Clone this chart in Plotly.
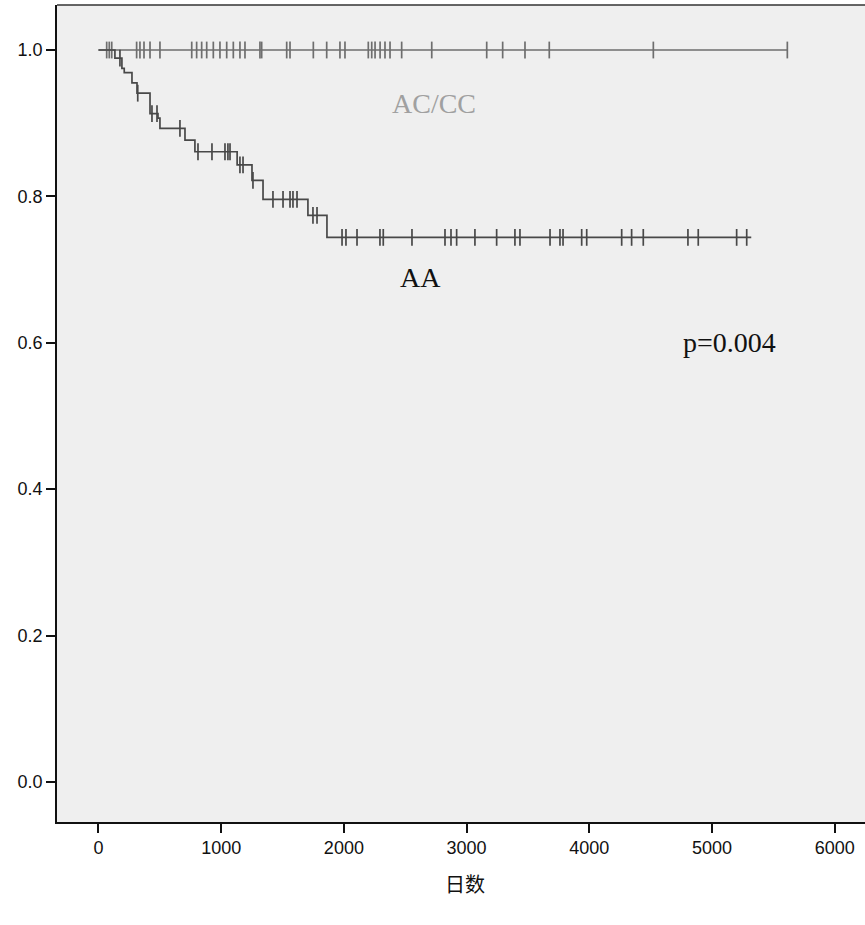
import numpy as np
import plotly.graph_objects as go

# ---- data ----
acc_censor_days = [67, 88, 108, 311, 338, 371, 420, 501, 760, 800, 841, 882, 936, 990,
                   1045, 1099, 1153, 1194, 1316, 1330, 1534, 1561, 1751, 1860, 1968, 2009,
                   2199, 2227, 2254, 2295, 2335, 2376, 2471, 2716, 3164, 3294, 3476, 3674,
                   4522, 5614]
acc_event_days = [0]
acc_survival = [1.0]
acc_last_day = 5614

aa_event_days = [0, 134, 191, 210, 273, 314, 420, 485, 501, 705, 786, 1130, 1251, 1341, 1707, 1862]
aa_survival = [1.0, 0.989, 0.975, 0.969, 0.955, 0.941, 0.913, 0.907, 0.893, 0.877, 0.861,
               0.843, 0.822, 0.796, 0.774, 0.744]
aa_censor_days = [175, 320, 436, 477, 664, 811, 925, 1031, 1055, 1072, 1153, 1178, 1259,
                  1422, 1504, 1561, 1585, 1618, 1748, 1781, 1985, 2017, 2107, 2294, 2321,
                  2555, 2824, 2873, 2919, 3068, 3245, 3394, 3435, 3680, 3761, 3786, 3938,
                  3979, 4264, 4345, 4440, 4804, 4888, 5201, 5283]
aa_last_day = 5320

x_ticks = [0, 1000, 2000, 3000, 4000, 5000, 6000]
y_ticks = [0.0, 0.2, 0.4, 0.6, 0.8, 1.0]
y_tick_labels = ["0.0", "0.2", "0.4", "0.6", "0.8", "1.0"]


def surv_at(days, ev, sv):
    idx = np.searchsorted(np.array(ev), np.array(days), side="right") - 1
    return [sv[i] for i in idx]


fig = go.Figure()

AC_COL = "#6e6e6e"
AA_COL = "#484848"

# AC/CC curve
fig.add_trace(go.Scatter(
    x=acc_event_days + [acc_last_day], y=acc_survival + [acc_survival[-1]],
    mode="lines", line=dict(color=AC_COL, width=1.7, shape="hv"),
    hoverinfo="skip", showlegend=False))
fig.add_trace(go.Scatter(
    x=acc_censor_days, y=surv_at(acc_censor_days, acc_event_days, acc_survival),
    mode="markers", marker=dict(symbol="line-ns", size=12, line=dict(color=AC_COL, width=1.7)),
    hoverinfo="skip", showlegend=False))

# AA curve
fig.add_trace(go.Scatter(
    x=aa_event_days + [aa_last_day], y=aa_survival + [aa_survival[-1]],
    mode="lines", line=dict(color=AA_COL, width=1.7, shape="hv"),
    hoverinfo="skip", showlegend=False))
fig.add_trace(go.Scatter(
    x=aa_censor_days, y=surv_at(aa_censor_days, aa_event_days, aa_survival),
    mode="markers", marker=dict(symbol="line-ns", size=12, line=dict(color=AA_COL, width=1.7)),
    hoverinfo="skip", showlegend=False))

serif = "Liberation Serif, Times New Roman, serif"
tickfont = dict(family="Liberation Sans, Arial, sans-serif", size=18, color="#111")

fig.add_annotation(x=2734, y=0.9275, xref="x", yref="y", text="AC/CC", showarrow=False,
                   font=dict(family=serif, size=28, color="#a0a0a0"))
fig.add_annotation(x=2628, y=0.689, xref="x", yref="y", text="AA", showarrow=False,
                   font=dict(family=serif, size=28, color="#111"))
fig.add_annotation(x=5139, y=0.601, xref="x", yref="y", text="p=0.004", showarrow=False,
                   font=dict(family=serif, size=28, color="#111"))
fig.add_annotation(x=0.5052, y=-0.096, xref="paper", yref="paper", text="日数", showarrow=False,
                   font=dict(family="Noto Sans CJK SC, Noto Sans CJK JP, sans-serif", size=20, color="#111"))

fig.add_shape(type="line", xref="paper", yref="paper", x0=0, x1=1, y0=1, y1=1,
              line=dict(color="#333", width=1.5))

fig.update_layout(
    width=865, height=925,
    margin=dict(l=57, r=0, t=5, b=103),
    paper_bgcolor="white", plot_bgcolor="#efefef",
    xaxis=dict(range=[-338, 6247], tickvals=x_ticks, ticks="outside", ticklen=9,
               tickwidth=1.5, tickcolor="#111", showline=True, linecolor="#111", linewidth=1.5,
               showgrid=False, zeroline=False, tickfont=tickfont),
    yaxis=dict(range=[-0.0547, 1.0615], tickvals=y_ticks, ticktext=y_tick_labels,
               ticks="outside", ticklen=9, tickwidth=1.5, tickcolor="#111",
               showline=True, linecolor="#111", linewidth=1.5,
               showgrid=False, zeroline=False, tickfont=tickfont),
)

fig.write_html("out.html", config={"displayModeBar": False},
               post_script="document.body.style.margin='0px';document.body.style.overflow='hidden';")
